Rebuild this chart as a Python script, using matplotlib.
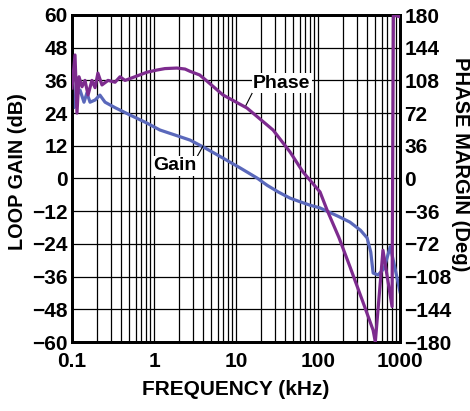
import matplotlib
matplotlib.use('Agg')
import matplotlib.pyplot as plt
from matplotlib.ticker import LogLocator, NullFormatter, FixedLocator
import numpy as np

plt.rcParams['font.family'] = ['Liberation Sans', 'DejaVu Sans']

# ── data ──
gain_freq = [0.100, 0.1058, 0.1119, 0.1252, 0.140, 0.152, 0.166, 0.191, 0.219, 0.253,
             0.335, 0.51, 0.8, 1.18, 2.0, 2.75, 4.2, 6.93, 11.2, 18, 24, 33, 45.6, 60, 80,
             106, 129, 180, 245, 330, 397, 440, 470, 540, 640, 760, 870, 1000]
gain_db = [41, 26, 30, 32.5, 28, 31.4, 28, 28.8, 30.6, 28,
           26, 23.3, 20.5, 17.8, 15.5, 14.1, 11.2, 7.5, 3.9, 0.2, -2.5, -5, -7.2, -8.5, -9.8,
           -10.8, -12, -14, -16, -19, -21.8, -27, -34.7, -35.4, -33, -25, -33, -41.6]

phase_freq = [0.100, 0.1088, 0.115, 0.1217, 0.1324, 0.144, 0.157, 0.175, 0.191, 0.207,
              0.232, 0.275, 0.335, 0.385, 0.443, 0.51, 0.82, 1.1, 1.36, 1.9, 2.39, 2.75,
              3.6, 4.2, 6.93, 13.6, 28.3, 45.6, 65.6, 106, 129, 180, 245, 350, 470, 500,
              620, 800, 830, 1000]
phase_deg = [99.6, 136, 72, 112, 101, 108, 92, 108, 100, 116,
             103, 108, 106, 112, 108, 110, 117, 119.5, 121, 121.6, 120.5, 118,
             114, 109, 92, 77.6, 53.4, 29.2, 7.2, -14.9, -34.7, -65, -97, -135, -167, -180,
             -79, -141, 180, 178]

gain_ticks = np.arange(-60, 61, 12)
phase_ticks = np.arange(-180, 181, 36)
freq_ticks = [0.1, 1, 10, 100, 1000]
freq_labels = ['0.1', '1', '10', '100', '1000']

blue = '#5a68bb'
purple = '#7d2b8e'

fig = plt.figure(figsize=(4.7, 4.11), dpi=100)
ax = fig.add_axes([72/470, 69/411, 328/470, 327/411])
ax2 = ax.twinx()

ax.set_xscale('log')
ax.set_xlim(0.1, 1000)
ax.set_ylim(-60, 60)
ax2.set_ylim(-180, 180)

ax.plot(gain_freq, gain_db, color=blue, lw=2.3, zorder=3)
ax2.plot(phase_freq, phase_deg, color=purple, lw=2.3, zorder=3)

ax.xaxis.set_major_locator(FixedLocator(freq_ticks))
ax.set_xticklabels(freq_labels)
ax.xaxis.set_minor_locator(LogLocator(base=10, subs=np.arange(2, 10)))
ax.xaxis.set_minor_formatter(NullFormatter())
ax.set_yticks(gain_ticks)
ax2.set_yticks(phase_ticks)
ax.grid(True, which='both', axis='x', color='black', lw=0.9)
ax.grid(True, which='major', axis='y', color='black', lw=0.9)

for a in (ax, ax2):
    a.tick_params(which='both', length=0, labelsize=15)
    for s in a.spines.values():
        s.set_linewidth(2)
    for lab in a.get_xticklabels() + a.get_yticklabels():
        lab.set_fontweight('bold')
ax.tick_params(axis='y', pad=3)
ax2.tick_params(axis='y', pad=3)
ax.tick_params(axis='x', pad=7)

ax.set_xlabel('FREQUENCY (kHz)', fontsize=15, fontweight='bold', labelpad=7)
ax.set_ylabel('LOOP GAIN (dB)', fontsize=14.3, fontweight='bold', va='center', ha='center')
ax.yaxis.set_label_coords(-0.165, 0.52)
ax2.set_ylabel('PHASE MARGIN (Deg)', fontsize=14.5, fontweight='bold', rotation=-90,
               va='center', ha='center')
ax2.yaxis.set_label_coords(1.183, 0.544)

box = dict(facecolor='white', edgecolor='none', pad=1)
ax.annotate('Phase', xy=(12.9, 26.2), xytext=(36, 35), fontsize=14, fontweight='bold',
            ha='center', va='center', bbox=box, zorder=5,
            arrowprops=dict(arrowstyle='-', color='black', lw=0.8, relpos=(0, 0), shrinkA=0, shrinkB=0))
ax.annotate('Gain', xy=(3.96, 11.9), xytext=(1.8, 4.6), fontsize=14, fontweight='bold',
            ha='center', va='center', bbox=box, zorder=5,
            arrowprops=dict(arrowstyle='-', color='black', lw=0.8, relpos=(1, 1), shrinkA=0, shrinkB=0))

fig.savefig('out.png', dpi=100)
